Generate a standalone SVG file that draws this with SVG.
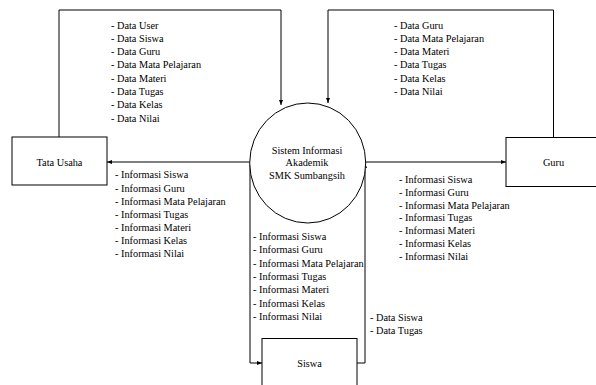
<svg xmlns="http://www.w3.org/2000/svg" width="596" height="385" viewBox="0 0 596 385" font-family="'Liberation Serif', 'Times New Roman', 'DejaVu Serif', serif" font-size="10.3">
<defs>
<style>
text{font-family:'Liberation Serif','Times New Roman','DejaVu Serif',serif;font-size:10.3px;fill:#000}
.c{text-anchor:middle}
.box{fill:#fff;stroke:#000;stroke-width:1}
.ln{fill:none;stroke:#000;stroke-width:1}
</style>
<marker id="ah" viewBox="0 0 10 10" refX="10" refY="5" markerWidth="5" markerHeight="5" orient="auto" markerUnits="userSpaceOnUse">
<path d="M0,1 L10,5 L0,9 z" fill="#000"/>
</marker>
</defs>
<rect width="596" height="385" fill="#fff"/>
<g id="connectors">
<polyline class="ln" points="59,137 59,10 281,10 281,105" marker-end="url(#ah)"/>
<polyline class="ln" points="553.5,137 553.5,10 328,10 328,103" marker-end="url(#ah)"/>
<line class="ln" x1="249.5" y1="162" x2="107" y2="162" marker-end="url(#ah)"/>
<line class="ln" x1="365" y1="162" x2="506" y2="162" marker-end="url(#ah)"/>
<polyline class="ln" points="250,165 250,363 262,363" marker-end="url(#ah)"/>
<polyline class="ln" points="357,363 365,363 365,163" marker-end="url(#ah)"/>
</g>
<g id="node-tata-usaha">
<rect class="box" x="12" y="137" width="95" height="48"/>
<text class="c" x="59.5" y="166.4">Tata Usaha</text>
</g>
<g id="node-guru">
<rect class="box" x="506" y="137.5" width="95" height="49"/>
<text class="c" x="553.5" y="166.4">Guru</text>
</g>
<g id="node-siswa">
<rect class="box" x="262" y="338.5" width="95" height="50"/>
<text class="c" x="309.5" y="367.4">Siswa</text>
</g>
<g id="node-sistem">
<ellipse class="box" cx="307.7" cy="163" rx="58" ry="60"/>
<text class="c" x="307" y="154">Sistem Informasi</text>
<text class="c" x="307" y="166.3">Akademik</text>
<text class="c" x="307" y="178.6">SMK Sumbangsih</text>
</g>
<g id="labels">
<text x="111" y="28.5">- Data User</text>
<text x="111" y="41.8">- Data Siswa</text>
<text x="111" y="55.1">- Data Guru</text>
<text x="111" y="68.4">- Data Mata Pelajaran</text>
<text x="111" y="81.7">- Data Materi</text>
<text x="111" y="95">- Data Tugas</text>
<text x="111" y="108.3">- Data Kelas</text>
<text x="111" y="121.6">- Data Nilai</text>

<text x="394" y="28.5">- Data Guru</text>
<text x="394" y="41.8">- Data Mata Pelajaran</text>
<text x="394" y="55.1">- Data Materi</text>
<text x="394" y="68.4">- Data Tugas</text>
<text x="394" y="81.7">- Data Kelas</text>
<text x="394" y="95">- Data Nilai</text>

<text x="115" y="178.4">- Informasi Siswa</text>
<text x="115" y="191.5">- Informasi Guru</text>
<text x="115" y="204.6">- Informasi Mata Pelajaran</text>
<text x="115" y="217.7">- Informasi Tugas</text>
<text x="115" y="230.8">- Informasi Materi</text>
<text x="115" y="243.9">- Informasi Kelas</text>
<text x="115" y="257">- Informasi Nilai</text>

<text x="399" y="182.7">- Informasi Siswa</text>
<text x="399" y="195.6">- Informasi Guru</text>
<text x="399" y="208.5">- Informasi Mata Pelajaran</text>
<text x="399" y="221.4">- Informasi Tugas</text>
<text x="399" y="234.3">- Informasi Materi</text>
<text x="399" y="247.2">- Informasi Kelas</text>
<text x="399" y="260.1">- Informasi Nilai</text>

<text x="253" y="240">- Informasi Siswa</text>
<text x="253" y="253.3">- Informasi Guru</text>
<text x="253" y="266.6">- Informasi Mata Pelajaran</text>
<text x="253" y="279.9">- Informasi Tugas</text>
<text x="253" y="293.2">- Informasi Materi</text>
<text x="253" y="306.5">- Informasi Kelas</text>
<text x="253" y="319.8">- Informasi Nilai</text>

<text x="370" y="321">- Data Siswa</text>
<text x="370" y="333.6">- Data Tugas</text>
</g>
</svg>
